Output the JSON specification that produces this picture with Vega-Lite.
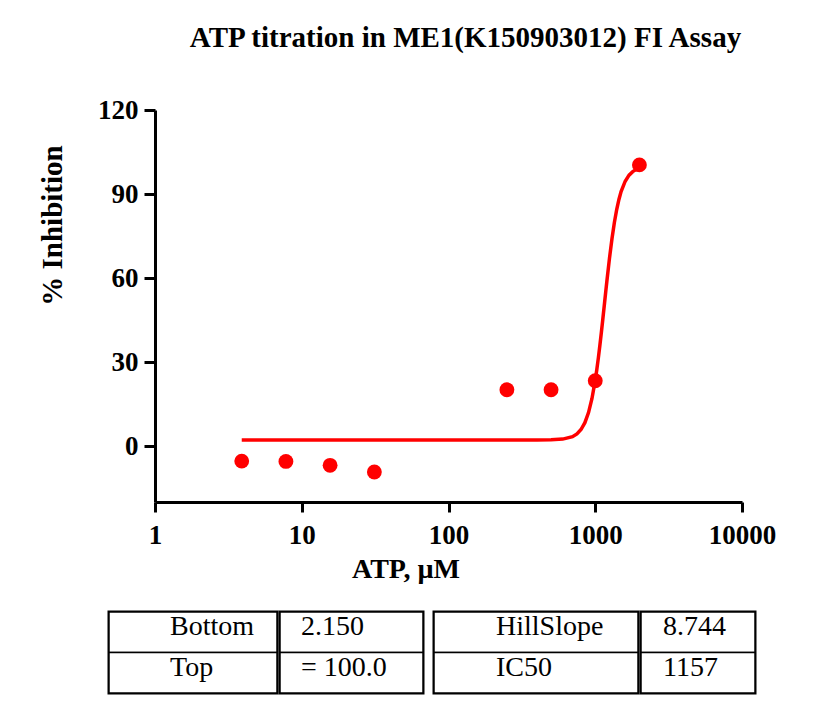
{
  "$schema": "https://vega.github.io/schema/vega-lite/v6.json",
  "background": "white",
  "padding": {"left": 37, "top": 24, "right": 5, "bottom": 5},
  "config": {
    "font": "Liberation Serif",
    "view": {"stroke": null},
    "axis": {"domainColor": "black", "tickColor": "black", "labelColor": "black", "titleColor": "black", "grid": false}
  },
  "datasets": {
    "points": [
      {"atp": 3.9, "inhib": -5.4},
      {"atp": 7.8, "inhib": -5.5},
      {"atp": 15.6, "inhib": -6.9},
      {"atp": 31.25, "inhib": -9.3},
      {"atp": 250, "inhib": 20.1},
      {"atp": 500, "inhib": 20.1},
      {"atp": 1000, "inhib": 23.3},
      {"atp": 2000, "inhib": 100.4}
    ],
    "curve": [
      {"atp": 3.9, "inhib": 2.15},
      {"atp": 10, "inhib": 2.15},
      {"atp": 50, "inhib": 2.15},
      {"atp": 100, "inhib": 2.15},
      {"atp": 200, "inhib": 2.15},
      {"atp": 300, "inhib": 2.15},
      {"atp": 400, "inhib": 2.16},
      {"atp": 500, "inhib": 2.21},
      {"atp": 600, "inhib": 2.46},
      {"atp": 700, "inhib": 3.34},
      {"atp": 750, "inhib": 4.31},
      {"atp": 800, "inhib": 5.88},
      {"atp": 850, "inhib": 8.33},
      {"atp": 900, "inhib": 11.94},
      {"atp": 950, "inhib": 16.96},
      {"atp": 1000, "inhib": 23.53},
      {"atp": 1025, "inhib": 27.34},
      {"atp": 1050, "inhib": 31.47},
      {"atp": 1075, "inhib": 35.88},
      {"atp": 1100, "inhib": 40.45},
      {"atp": 1125, "inhib": 45.10},
      {"atp": 1157, "inhib": 51.08},
      {"atp": 1180, "inhib": 55.29},
      {"atp": 1200, "inhib": 58.82},
      {"atp": 1250, "inhib": 67.02},
      {"atp": 1300, "inhib": 74.05},
      {"atp": 1350, "inhib": 79.83},
      {"atp": 1400, "inhib": 84.46},
      {"atp": 1450, "inhib": 88.06},
      {"atp": 1500, "inhib": 90.84},
      {"atp": 1600, "inhib": 94.57},
      {"atp": 1700, "inhib": 96.73},
      {"atp": 1800, "inhib": 97.99},
      {"atp": 1900, "inhib": 98.74},
      {"atp": 2000, "inhib": 99.19}
    ],
    "params": [
      {"col": "A", "row": "r1", "text": "Bottom"},
      {"col": "B", "row": "r1", "text": "2.150"},
      {"col": "A", "row": "r2", "text": "Top"},
      {"col": "B", "row": "r2", "text": "= 100.0"},
      {"col": "C", "row": "r1", "text": "HillSlope"},
      {"col": "D", "row": "r1", "text": "8.744"},
      {"col": "C", "row": "r2", "text": "IC50"},
      {"col": "D", "row": "r2", "text": "1157"}
    ]
  },
  "concat": [
    {
      "width": 633,
      "height": 392,
      "title": {
        "text": "ATP titration in ME1(K150903012) FI Assay",
        "font": "Liberation Serif", "fontSize": 29, "fontWeight": "bold", "color": "black",
        "anchor": "middle", "frame": "group", "dx": 40, "offset": 43
      },
      "encoding": {
        "x": {
          "field": "atp", "type": "quantitative",
          "scale": {"type": "log", "domain": [1, 10000], "nice": false, "range": [46, 633]},
          "axis": {
            "values": [1, 10, 100, 1000, 10000], "format": "d",
            "title": "ATP, µM",
            "domainWidth": 3, "tickWidth": 3, "tickSize": 10, "labelPadding": 10,
            "labelFontSize": 27, "labelFontWeight": "bold", "labelFlush": false, "labelOverlap": false,
            "titleFontSize": 28, "titleFontWeight": "bold",
            "titleX": 296.5, "titleY": 75, "titleAlign": "center", "titleBaseline": "alphabetic"
          }
        },
        "y": {
          "field": "inhib", "type": "quantitative",
          "scale": {"domain": [-20, 120], "nice": false, "zero": false},
          "axis": {
            "values": [0, 30, 60, 90, 120],
            "title": "% Inhibition", "offset": -46,
            "domainWidth": 3, "tickWidth": 3, "tickSize": 11, "labelPadding": 6,
            "labelFontSize": 27, "labelFontWeight": "bold",
            "titleFontSize": 29, "titleFontWeight": "bold",
            "titleX": -94, "titleY": 115, "titleAngle": -90, "titleAlign": "center", "titleBaseline": "alphabetic"
          }
        }
      },
      "layer": [
        {"data": {"name": "curve"}, "mark": {"type": "line", "color": "#ff0000", "strokeWidth": 3.5}},
        {"data": {"name": "points"}, "mark": {"type": "circle", "color": "#ff0000", "size": 220, "opacity": 1}}
      ]
    },
    {
      "spacing": 5,
      "hconcat": [
        {
          "spacing": -6,
          "hconcat": [
            {
              "width": 168, "height": 81,
              "view": {"stroke": "black", "strokeWidth": 3},
              "data": {"name": "params"},
              "transform": [{"filter": "datum.col == 'A'"}],
              "encoding": {
                "y": {"field": "row", "type": "nominal", "scale": {"paddingInner": 0, "paddingOuter": 0}, "axis": null}
              },
              "layer": [
                {"mark": {"type": "rect", "fill": "white", "stroke": "black", "strokeWidth": 1.5}},
                {"mark": {"type": "text", "align": "left", "dx": -23, "dy": -5, "fontSize": 28, "color": "black"}, "encoding": {"text": {"field": "text"}}}
              ]
            },
            {
              "width": 143, "height": 81,
              "view": {"stroke": "black", "strokeWidth": 3},
              "data": {"name": "params"},
              "transform": [{"filter": "datum.col == 'B'"}],
              "encoding": {
                "y": {"field": "row", "type": "nominal", "scale": {"paddingInner": 0, "paddingOuter": 0}, "axis": null}
              },
              "layer": [
                {"mark": {"type": "rect", "fill": "white", "stroke": "black", "strokeWidth": 1.5}},
                {"mark": {"type": "text", "align": "left", "dx": -50.5, "dy": -5, "fontSize": 28, "color": "black"}, "encoding": {"text": {"field": "text"}}}
              ]
            }
          ]
        },
        {
          "spacing": -6,
          "hconcat": [
            {
              "width": 204, "height": 81,
              "view": {"stroke": "black", "strokeWidth": 3},
              "data": {"name": "params"},
              "transform": [{"filter": "datum.col == 'C'"}],
              "encoding": {
                "y": {"field": "row", "type": "nominal", "scale": {"paddingInner": 0, "paddingOuter": 0}, "axis": null}
              },
              "layer": [
                {"mark": {"type": "rect", "fill": "white", "stroke": "black", "strokeWidth": 1.5}},
                {"mark": {"type": "text", "align": "left", "dx": -40, "dy": -5, "fontSize": 28, "color": "black"}, "encoding": {"text": {"field": "text"}}}
              ]
            },
            {
              "width": 114, "height": 81,
              "view": {"stroke": "black", "strokeWidth": 3},
              "data": {"name": "params"},
              "transform": [{"filter": "datum.col == 'D'"}],
              "encoding": {
                "y": {"field": "row", "type": "nominal", "scale": {"paddingInner": 0, "paddingOuter": 0}, "axis": null}
              },
              "layer": [
                {"mark": {"type": "rect", "fill": "white", "stroke": "black", "strokeWidth": 1.5}},
                {"mark": {"type": "text", "align": "left", "dx": -35, "dy": -5, "fontSize": 28, "color": "black"}, "encoding": {"text": {"field": "text"}}}
              ]
            }
          ]
        }
      ]
    }
  ],
  "columns": 1,
  "align": "none",
  "spacing": 26
}
